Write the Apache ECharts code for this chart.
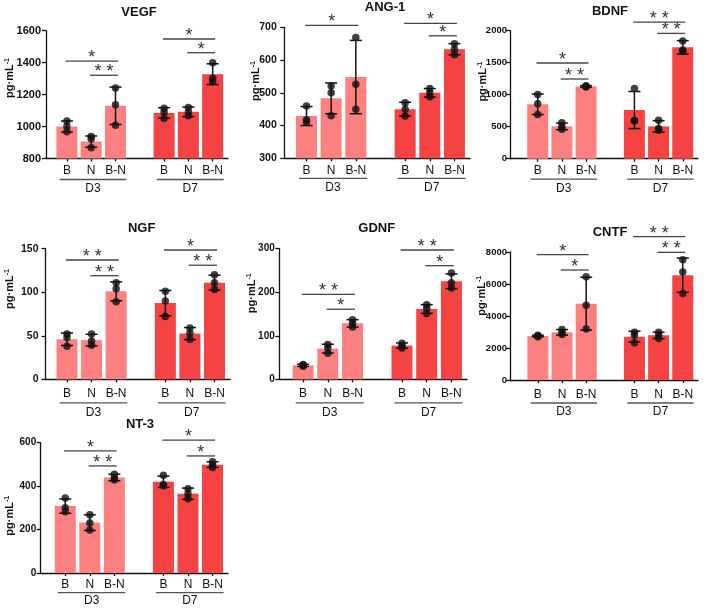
<!DOCTYPE html>
<html><head><meta charset="utf-8">
<script src="https://cdn.jsdelivr.net/npm/echarts@6/dist/echarts.min.js"></script>
<style>html,body{margin:0;padding:0;background:#fff}#c{width:709px;height:610px}</style>
</head><body><div id="c"></div>
<script>
// ---- shared categories ----
const xPos = [0, 1, 2, 4, 5, 6];
const catLabels = ['B', 'N', 'B-N', 'B', 'N', 'B-N'];
const groupNames = ['D3', 'D7'];
const groupSpan = [[-0.3, 2.45], [3.7, 6.45]];

// significance entries: [from category index, to category index, height, text]
// ---- VEGF ----
const vegfMean = [1000, 906, 1130, 1085, 1092, 1328];
const vegfErr = [35, 35, 117, 33, 30, 65];
const vegfPts = [[1035, 1000, 968], [938, 922, 868], [1242, 1137, 1008], [1115, 1090, 1050], [1120, 1090, 1067], [1400, 1302, 1280]];
const vegfSig = [[0, 2, 1410, '*'], [1, 2, 1321, '* *'], [3, 5, 1548, '*'], [4, 5, 1462, '*']];
const vegfTicks = [800, 1600, 200];

// ---- ANG-1 ----
const angMean = [429, 483, 548, 450, 500, 633];
const angErr = [29, 47, 112, 21, 13, 17];
const angPts = [[460, 418, 410], [521, 500, 430], [669, 526, 450], [470, 450, 429], [513, 500, 488], [650, 633, 616]];
const angSig = [[0, 2, 706, '*'], [3, 5, 712, '*'], [4, 5, 674, '*']];
const angTicks = [300, 700, 100];

// ---- BDNF ----
const bdnfMean = [850, 505, 1130, 760, 505, 1740];
const bdnfErr = [160, 52, 12, 290, 90, 105];
const bdnfPts = [[1005, 860, 690], [560, 500, 460], [1140, 1130, 1120], [1095, 595, 590], [600, 470, 445], [1840, 1700, 1680]];
const bdnfSig = [[0, 2, 1495, '*'], [1, 2, 1245, '* *'], [3, 5, 2135, '* *'], [4, 5, 1958, '* *']];
const bdnfTicks = [0, 2000, 500];

// ---- NGF ----
const ngfMean = [46, 45, 101, 87.5, 52.5, 111];
const ngfErr = [7.2, 6.7, 10.9, 14.5, 6.9, 8.6];
const ngfPts = [[52, 48, 38], [52, 44, 39], [111, 104, 89], [101, 90, 72], [59, 53, 46], [120, 111, 103]];
const ngfSig = [[0, 2, 137, '* *'], [1, 2, 119, '* *'], [3, 5, 148.5, '*'], [4, 5, 131, '* *']];
const ngfTicks = [0, 150, 50];

// ---- GDNF ----
const gdnfMean = [32, 70.5, 128.5, 77.5, 161.5, 225];
const gdnfErr = [2.5, 10, 8.5, 6, 10, 17];
const gdnfPts = [[34, 32, 30], [80, 72, 60], [137, 129, 120], [83, 77, 72], [171, 163, 151], [244, 222, 210]];
const gdnfSig = [[0, 2, 195, '* *'], [1, 2, 161, '*'], [3, 5, 297, '* *'], [4, 5, 261, '*']];
const gdnfTicks = [0, 300, 100];

// ---- CNTF ----
const cntfMean = [2750, 2980, 4770, 2710, 2790, 6550];
const cntfErr = [50, 170, 1650, 340, 200, 1070];
const cntfPts = [[2800, 2750, 2700], [3150, 2950, 2850], [6450, 4670, 3190], [2980, 2820, 2330], [2980, 2800, 2600], [7520, 6750, 5400]];
const cntfSig = [[0, 2, 7833, '*'], [1, 2, 6875, '*'], [3, 5, 8958, '* *'], [4, 5, 7979, '* *']];
const cntfTicks = [0, 8000, 2000];

// ---- NT-3 ----
const nt3Mean = [308, 232, 440, 420, 365, 499];
const nt3Err = [33, 36, 15, 26, 26, 13];
const nt3Pts = [[345, 300, 282], [268, 230, 198], [455, 438, 428], [450, 408, 402], [388, 365, 342], [512, 498, 486]];
const nt3Sig = [[0, 2, 562, '*'], [1, 2, 493, '* *'], [3, 5, 612, '*'], [4, 5, 539, '*']];
const nt3Ticks = [0, 600, 200];

const FONT = '"Liberation Sans", Arial, Helvetica, sans-serif';
const LIGHT = '#FD8080';
const DARK = '#F54343';
const INK = '#111';

const panels = [
  {title: 'VEGF', mean: vegfMean, err: vegfErr, pts: vegfPts, sig: vegfSig, ticks: vegfTicks,
   L: 46, T: 30.7, R: 228, B: 158.5, xMin: -0.86, tx: 139, ty: 12, nx: 10, ny: 78, lm: 6, lo: 21, to: 30, yf: 11, ym: 5},
  {title: 'ANG-1', mean: angMean, err: angErr, pts: angPts, sig: angSig, ticks: angTicks,
   L: 284.3, T: 27.3, R: 470, B: 158.3, xMin: -0.9, tx: 385, ty: 7, nx: 256, ny: 81, lm: 6, lo: 20, to: 29, yf: 10.5, ym: 7.5},
  {title: 'BDNF', mean: bdnfMean, err: bdnfErr, pts: bdnfPts, sig: bdnfSig, ticks: bdnfTicks,
   L: 510, T: 30.7, R: 698, B: 158.7, xMin: -1.146, tx: 610, ty: 11.7, nx: 482.7, ny: 81.7, lm: 6, lo: 20.5, to: 29.5, yf: 9.5, ym: 3},
  {title: 'NGF', mean: ngfMean, err: ngfErr, pts: ngfPts, sig: ngfSig, ticks: ngfTicks,
   L: 45.5, T: 248.7, R: 230, B: 379.3, xMin: -0.874, tx: 141.7, ty: 228.3, nx: 10, ny: 289, lm: 8.5, lo: 23.5, to: 33, yf: 10.5, ym: 7},
  {title: 'GDNF', mean: gdnfMean, err: gdnfErr, pts: gdnfPts, sig: gdnfSig, ticks: gdnfTicks,
   L: 279.3, T: 248.7, R: 467, B: 379.3, xMin: -0.963, tx: 376.7, ty: 228.3, nx: 251.7, ny: 293.3, lm: 8.5, lo: 23.5, to: 33, yf: 10, ym: 4.5},
  {title: 'CNTF', mean: cntfMean, err: cntfErr, pts: cntfPts, sig: cntfSig, ticks: cntfTicks,
   L: 510, T: 252, R: 698, B: 380, xMin: -1.154, tx: 610, ty: 232.3, nx: 481.7, ny: 295.8, lm: 8.5, lo: 23, to: 32, yf: 9.5, ym: 3},
  {title: 'NT-3', mean: nt3Mean, err: nt3Err, pts: nt3Pts, sig: nt3Sig, ticks: nt3Ticks,
   L: 40.7, T: 442.7, R: 228, B: 573, xMin: -1.0, tx: 140, ty: 424, nx: 10, ny: 515.8, lm: 5.5, lo: 19.7, to: 27.5, yf: 10, ym: 4.5}
];
const X_MAX = 6.63;

const grid = [], xAxis = [], yAxis = [], series = [], graphic = [];
const axisLineStyle = {color: INK, width: 1.3};

panels.forEach((p, k) => {
  grid.push({left: p.L, top: p.T, width: p.R - p.L, height: p.B - p.T});
  xAxis.push({
    type: 'value', gridIndex: k, min: p.xMin, max: X_MAX,
    axisLine: {show: true, onZero: false, lineStyle: axisLineStyle},
    axisTick: {show: true, customValues: xPos, length: 3, lineStyle: axisLineStyle},
    axisLabel: {show: true, customValues: xPos, margin: p.lm, fontSize: 12, color: INK, fontFamily: FONT,
      formatter: v => catLabels[xPos.indexOf(v)] || ''},
    splitLine: {show: false}
  });
  yAxis.push({
    type: 'value', gridIndex: k, min: p.ticks[0], max: p.ticks[1], interval: p.ticks[2],
    axisLine: {show: true, onZero: false, lineStyle: axisLineStyle},
    axisTick: {show: true, length: 4, lineStyle: axisLineStyle},
    axisLabel: {fontSize: p.yf, fontWeight: 'bold', color: INK, margin: p.ym, fontFamily: FONT, formatter: v => String(v)},
    splitLine: {show: false}
  });
  // bars
  series.push({
    type: 'bar', xAxisIndex: k, yAxisIndex: k, barWidth: 21, z: 2,
    data: p.mean.map((m, i) => ({value: [xPos[i], m], itemStyle: {color: i < 3 ? LIGHT : DARK}}))
  });
  // error bars (mean ± SD)
  series.push({
    type: 'custom', xAxisIndex: k, yAxisIndex: k, z: 3, clip: false,
    encode: {x: 0, y: 1},
    data: p.mean.map((m, i) => [xPos[i], m]),
    renderItem(params, api) {
      const i = params.dataIndex;
      const x = api.value(0), m = api.value(1);
      const a = api.coord([x, m - p.err[i]]);
      const b = api.coord([x, m + p.err[i]]);
      const hw = 6;
      const st = {stroke: INK, lineWidth: 1.5};
      return {type: 'group', children: [
        {type: 'line', shape: {x1: a[0], y1: a[1], x2: b[0], y2: b[1]}, style: st},
        {type: 'line', shape: {x1: a[0] - hw, y1: a[1], x2: a[0] + hw, y2: a[1]}, style: st},
        {type: 'line', shape: {x1: b[0] - hw, y1: b[1], x2: b[0] + hw, y2: b[1]}, style: st}
      ]};
    }
  });
  // dots
  series.push({
    type: 'scatter', xAxisIndex: k, yAxisIndex: k, z: 4, symbolSize: 7.5,
    itemStyle: {color: INK},
    data: p.pts.flatMap((arr, i) => arr.map(v => [xPos[i], v]))
  });
  // significance brackets
  series.push({
    type: 'custom', xAxisIndex: k, yAxisIndex: k, z: 5, clip: false,
    encode: {x: 0, y: 1},
    data: p.sig.map(s => [xPos[s[0]] - 0.05, s[2]]),
    renderItem(params, api) {
      const s = p.sig[params.dataIndex];
      const a = api.coord([api.value(0), api.value(1)]);
      const b = api.coord([xPos[s[1]] + 0.1, api.value(1)]);
      return {type: 'group', children: [
        {type: 'line', shape: {x1: a[0], y1: a[1], x2: b[0], y2: a[1]}, style: {stroke: '#444', lineWidth: 1.3}},
        {type: 'text', x: (a[0] + b[0]) / 2, y: a[1] - 3,
         style: {text: s[3], fontSize: 18, fontFamily: FONT, fill: '#333', align: 'center', verticalAlign: 'middle'}}
      ]};
    }
  });
  // group lines + labels
  series.push({
    type: 'custom', xAxisIndex: k, yAxisIndex: k, z: 5, clip: false,
    encode: {x: 0, y: 1},
    data: groupSpan.map(g => [g[0], p.ticks[0]]),
    renderItem(params, api) {
      const g = groupSpan[params.dataIndex];
      const a = api.coord([api.value(0), api.value(1)]);
      const b = api.coord([g[1], api.value(1)]);
      return {type: 'group', children: [
        {type: 'line', shape: {x1: a[0], y1: a[1] + p.lo, x2: b[0], y2: a[1] + p.lo}, style: {stroke: '#555', lineWidth: 1.3}},
        {type: 'text', x: (a[0] + b[0]) / 2, y: a[1] + p.to,
         style: {text: groupNames[params.dataIndex], fontSize: 12, fontFamily: FONT, fill: INK, align: 'center', verticalAlign: 'middle'}}
      ]};
    }
  });
  graphic.push({type: 'text', x: p.tx, y: p.ty,
    style: {text: p.title, fontSize: 13, fontWeight: 'bold', fontFamily: FONT, fill: INK, align: 'center', verticalAlign: 'middle'}});
  graphic.push({type: 'text', x: p.nx, y: p.ny, rotation: Math.PI / 2,
    style: {text: 'pg·mL{s|-1}', fontSize: 11, fontWeight: 'bold', fontFamily: FONT, fill: INK, align: 'center', verticalAlign: 'middle',
      rich: {s: {fontSize: 7, fontWeight: 'bold', fontFamily: FONT, fill: INK, verticalAlign: 'top', padding: [0, 0, 5, 0]}}}});
});

const chart = echarts.init(document.getElementById('c'), null, {renderer: 'canvas'});
chart.setOption({animation: false, backgroundColor: '#fff', grid, xAxis, yAxis, series, graphic});
</script>
</body></html>
